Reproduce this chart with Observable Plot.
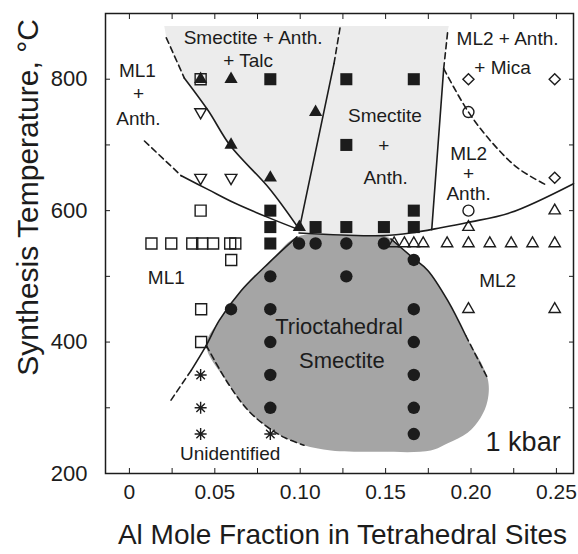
<!DOCTYPE html>
<html><head><meta charset="utf-8">
<script src="https://cdn.jsdelivr.net/npm/d3@7"></script>
<script src="https://cdn.jsdelivr.net/npm/@observablehq/plot@0.6"></script>
<style>html,body{margin:0;padding:0;background:#fff}#chart{width:578px;height:554px}</style>
</head><body><div id="chart"></div>
<script>
// ---- data points [Al fraction, temperature] ----
const smectiteAnth = [[0.0825,800],[0.127,800],[0.1665,800],[0.127,700],[0.0825,600],[0.1665,600],[0.0825,575],[0.109,575],[0.127,575],[0.149,575],[0.1665,575],[0.0825,550]];
const smectiteAnthTalc = [[0.0417,800],[0.0595,800],[0.109,750],[0.0595,700],[0.0825,650],[0.0995,575]];
const ml1 = [[0.0417,800],[0.0417,600],[0.0129,550],[0.0245,550],[0.0368,550],[0.0426,550],[0.049,550],[0.059,550],[0.062,550],[0.0596,525],[0.042,450],[0.042,400]];
const ml1Anth = [[0.0417,750],[0.0417,650],[0.0595,650]];
const trioctahedral = [[0.0993,550],[0.109,550],[0.127,550],[0.149,550],[0.1665,525],[0.0825,500],[0.127,500],[0.0595,450],[0.0825,450],[0.1665,450],[0.0825,400],[0.1665,400],[0.0825,350],[0.1665,350],[0.0825,300],[0.1665,300],[0.1665,260]];
const ml2 = [[0.155,550],[0.161,550],[0.1665,550],[0.172,550],[0.186,550],[0.1985,550],[0.211,550],[0.2235,550],[0.236,550],[0.249,550],[0.1985,575],[0.249,600],[0.1985,450],[0.249,450]];
const ml2Anth = [[0.1985,750],[0.1985,600]];
const ml2AnthMica = [[0.1985,800],[0.249,800],[0.249,650]];
const unidentified = [[0.0417,350],[0.0417,300],[0.0417,260],[0.0825,260]];

// ---- phase boundaries ----
const bLeftUpperDash = [[0.0216,863],[0.0321,802]];
const bLeftUpper = [[0.0321,802],[0.0462,752],[0.059,699],[0.0818,634],[0.0993,572]];
const bLeftLowerDash = [[0.0088,706],[0.0304,653]];
const bLeftLower = [[0.0304,653],[0.0462,632],[0.0613,612],[0.0818,589],[0.0993,571]];
const bMid = [[0.0993,570],[0.1198,824]];
const bMidDash = [[0.1198,824],[0.1233,878]];
const bRight = [[0.177,571],[0.184,816]];
const bRightDash = [[0.184,816],[0.1864,874]];
const bMica = [[0.184,816],[0.198,752],[0.2115,706],[0.2273,665],[0.2448,638]];
const bPlateau = [[0.0993,566],[0.1239,563],[0.149,562],[0.1647,566],[0.1823,574],[0.198,582],[0.2232,597],[0.26,641]];
const bTriLeft = [[0.0981,560],[0.0818,521],[0.0654,478],[0.0526,433],[0.045,395],[0.0362,357]];
const bTriLeftDash = [[0.0362,357],[0.0234,308]];
const bTriBottom = [[0.045,395],[0.0578,337],[0.0695,296],[0.0812,270],[0.0906,255],[0.1022,243]];
const bTriRight = [[0.1531,557],[0.1665,527],[0.1747,509],[0.1864,463],[0.1969,410]];
const bTriRightDash = [[0.1969,410],[0.2097,345]];

// ---- regions ----
const smectiteRegion = [[0.0204,881],[0.187,881],[0.1864,874],[0.184,816],[0.177,571],[0.1647,566],[0.149,562],[0.1239,563],[0.0993,566],[0.0993,572],[0.0818,634],[0.059,699],[0.0462,752],[0.0321,802],[0.0216,863]];
const trioctRegion = [[0.0981,560],[0.1239,562],[0.149,561],[0.1531,557],[0.1665,527],[0.1747,509],[0.1864,463],[0.1969,410],[0.2097,345],[0.2097,311],[0.2056,285],[0.198,262],[0.1864,246],[0.1764,235],[0.1472,233],[0.118,235],[0.1022,243],[0.0906,255],[0.0812,270],[0.0695,296],[0.0578,337],[0.045,395],[0.0526,433],[0.0654,478],[0.0818,521]];

// ---- labels ----
const regionLabels = ["Smectite + Anth.","+ Talc","ML1","+","Anth.","Smectite","+","Anth.","ML2 + Anth.","+ Mica","ML2","+","Anth.","ML1","ML2","Unidentified"];
const regionLabelX = [0.0724,0.0695,0.0047,0.0053,0.0053,0.1496,0.149,0.150,0.2214,0.2185,0.1986,0.1986,0.1986,0.0216,0.2156,0.059];
const regionLabelY = [863,828,813,778,740,744,699,650,862,817,687,656,626,498,493,230];
const bigLabels = ["Trioctahedral","Smectite"];
const bigLabelX = [0.1227,0.1244];
const bigLabelY = [423,371];
const pressureLabel = ["1 kbar"];
const pressureX = [0.2305];
const pressureY = [247];

// ---- axes ----
const xTicks = [0,0.05,0.10,0.15,0.20,0.25];
const xTickLabels = ["0","0.05","0.10","0.15","0.20","0.25"];
const xMinor = [0,0.025,0.05,0.075,0.10,0.125,0.15,0.175,0.20,0.225,0.25];
const yTicks = [200,400,600,800];
const yTickLabels = ["200","400","600","800"];
const yMinor = [300,400,500,600,700,800];
const xTitle = "Al Mole Fraction in Tetrahedral Sites";
const yTitle = "Synthesis Temperature, °C";

// ---- rendering ----
const X = d => d[0], Y = d => d[1];
const INK = "#1c1c1c";
const invTriangle = {draw(ctx, size){const s=Math.sqrt(size)*0.6824,t=s/2,u=s*Math.sqrt(3)/2;ctx.moveTo(0,s);ctx.lineTo(-u,-t);ctx.lineTo(u,-t);ctx.closePath();}};
const star8 = {draw(ctx, size){const r=Math.sqrt(size/Math.PI),k=r*Math.SQRT1_2;ctx.moveTo(0,-r);ctx.lineTo(0,r);ctx.moveTo(-r,0);ctx.lineTo(r,0);ctx.moveTo(-k,-k);ctx.lineTo(k,k);ctx.moveTo(-k,k);ctx.lineTo(k,-k);}};

const solid = (data) => Plot.line(data, {x: X, y: Y, curve: "catmull-rom", stroke: INK, strokeWidth: 1.6});
const dashed = (data) => Plot.line(data, {x: X, y: Y, curve: "catmull-rom", stroke: INK, strokeWidth: 1.6, strokeDasharray: "6,4"});
const idx = a => a.map((_, i) => i);

const plot = Plot.plot({
  width: 578, height: 554,
  marginLeft: 105, marginRight: 5, marginTop: 13, marginBottom: 81,
  style: {fontFamily: "'Liberation Sans', Arial, sans-serif", background: "#fff", color: INK},
  x: {domain: [-0.014, 0.26]},
  y: {domain: [200, 900]},
  marks: [
    Plot.line(smectiteRegion, {x: X, y: Y, curve: "linear-closed", fill: "#ececec", stroke: "none"}),
    Plot.line(trioctRegion, {x: X, y: Y, curve: "catmull-rom-closed", fill: "#a5a5a5", stroke: "none"}),
    solid(bLeftUpper), dashed(bLeftUpperDash),
    solid(bLeftLower), dashed(bLeftLowerDash),
    solid(bMid), dashed(bMidDash),
    solid(bRight), dashed(bRightDash),
    dashed(bMica),
    solid(bPlateau),
    solid(bTriLeft), dashed(bTriLeftDash),
    dashed(bTriBottom),
    solid(bTriRight), dashed(bTriRightDash),
    Plot.dot(ml1, {x: X, y: Y, symbol: "square2", r: 7, fill: "none", stroke: INK, strokeWidth: 1.4}),
    Plot.dot(ml1Anth, {x: X, y: Y, symbol: invTriangle, r: 5.6, fill: "none", stroke: INK, strokeWidth: 1.4}),
    Plot.dot(ml2, {x: X, y: Y, symbol: "triangle2", r: 5.4, fill: "none", stroke: INK, strokeWidth: 1.4}),
    Plot.dot(ml2Anth, {x: X, y: Y, symbol: "circle", r: 5.5, fill: "none", stroke: INK, strokeWidth: 1.4}),
    Plot.dot(ml2AnthMica, {x: X, y: Y, symbol: "diamond2", r: 5, fill: "none", stroke: INK, strokeWidth: 1.4}),
    Plot.dot(unidentified, {x: X, y: Y, symbol: star8, r: 6, fill: "none", stroke: INK, strokeWidth: 1.4}),
    Plot.dot(smectiteAnth, {x: X, y: Y, symbol: "square", r: 6.8, fill: INK, stroke: "none"}),
    Plot.dot(smectiteAnthTalc, {x: X, y: Y, symbol: "triangle", r: 4.9, fill: INK, stroke: "none"}),
    Plot.dot(trioctahedral, {x: X, y: Y, symbol: "circle", r: 6.2, fill: INK, stroke: "none"}),
    Plot.text(idx(regionLabels), {x: i => regionLabelX[i], y: i => regionLabelY[i], text: i => regionLabels[i], fontSize: 19, fill: INK}),
    Plot.text(idx(bigLabels), {x: i => bigLabelX[i], y: i => bigLabelY[i], text: i => bigLabels[i], fontSize: 22, fill: INK}),
    Plot.text(idx(pressureLabel), {x: i => pressureX[i], y: i => pressureY[i], text: i => pressureLabel[i], fontSize: 27, fill: INK}),
    Plot.frame({stroke: INK, strokeWidth: 1.5}),
    Plot.axisX({anchor: "bottom", ticks: xMinor, tickSize: -5, tickFormat: () => "", label: null, stroke: INK}),
    Plot.axisX({anchor: "top", ticks: xMinor, tickSize: -5, tickFormat: () => "", label: null, stroke: INK}),
    Plot.axisY({anchor: "left", ticks: yMinor, tickSize: -5, tickFormat: () => "", label: null, stroke: INK}),
    Plot.axisY({anchor: "right", ticks: yMinor, tickSize: -5, tickFormat: () => "", label: null, stroke: INK}),
    Plot.axisX({anchor: "bottom", ticks: xTicks, tickSize: 0, tickPadding: 11, tickFormat: d => xTickLabels[xTicks.indexOf(d)], fontSize: 21, label: null, fill: INK}),
    Plot.axisY({anchor: "left", ticks: yTicks, tickSize: 0, tickPadding: 18, tickFormat: d => yTickLabels[yTicks.indexOf(d)], fontSize: 22, label: null, fill: INK}),
    Plot.text([xTitle], {frameAnchor: "bottom", textAnchor: "middle", lineAnchor: "middle", dx: 3, dy: 62, fontSize: 28, fill: INK}),
    Plot.text([yTitle], {frameAnchor: "left", textAnchor: "middle", lineAnchor: "middle", rotate: -90, dx: -77, dy: -46, fontSize: 30, fill: INK})
  ]
});
document.getElementById("chart").appendChild(plot);
</script>
</body></html>
